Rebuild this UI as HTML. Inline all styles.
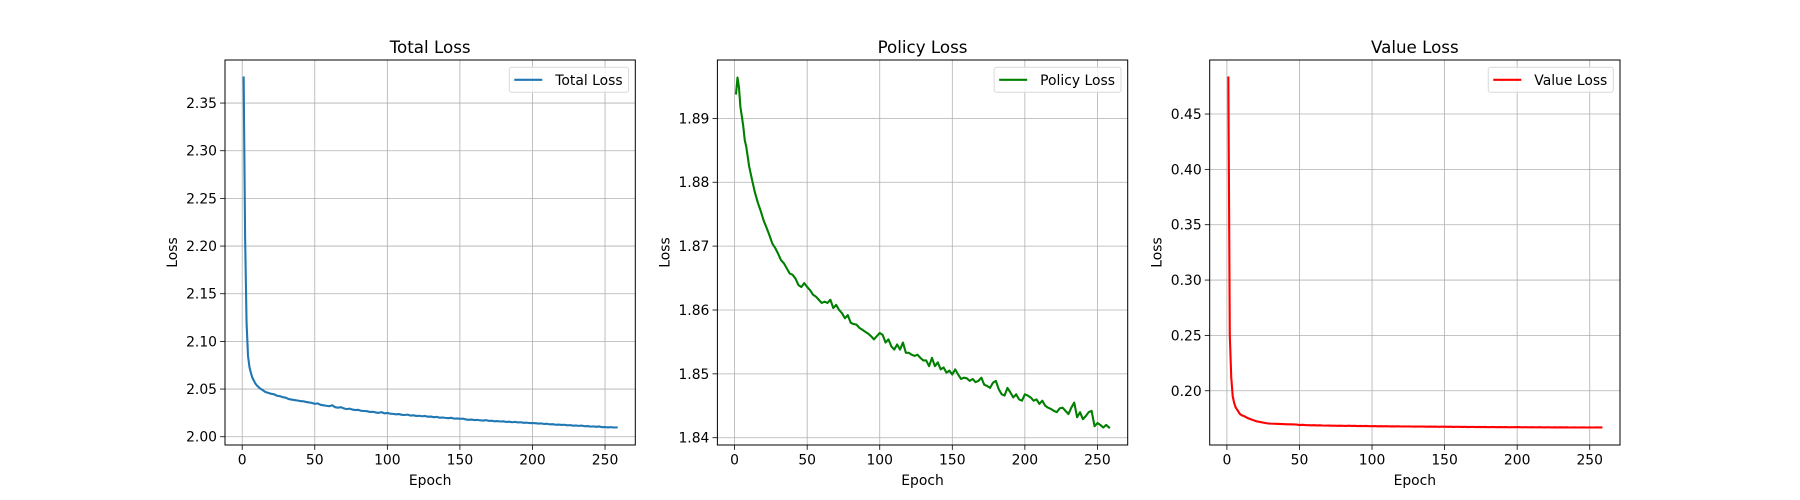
<!DOCTYPE html>
<html><head><meta charset="utf-8"><style>
html,body{margin:0;padding:0;background:#fff;}
svg{display:block;font-family:"DejaVu Sans","Liberation Sans",sans-serif;}
</style></head><body>
<svg id="fig" width="1800" height="500" viewBox="0 0 1800 500" xmlns="http://www.w3.org/2000/svg"></svg>
<script>
const epochs = [1,2,3,4,5,6,7,8,9,10,12,14,16,18,20,22,24,26,28,30,32,34,36,38,40,42,44,46,48,50,52,54,56,58,60,62,64,66,68,70,72,74,76,78,80,82,84,86,88,90,92,94,96,98,100,102,104,106,108,110,112,114,116,118,120,122,124,126,128,130,132,134,136,138,140,142,144,146,148,150,152,154,156,158,160,162,164,166,168,170,172,174,176,178,180,182,184,186,188,190,192,194,196,198,200,202,204,206,208,210,212,214,216,218,220,222,224,226,228,230,232,234,236,238,240,242,244,246,248,250,252,254,256,258];
const totalLoss = [2.3768,2.21,2.12,2.085,2.073,2.067,2.062,2.059,2.056,2.054,2.051,2.049,2.047,2.046,2.045,2.0445,2.043,2.0425,2.0415,2.041,2.0395,2.039,2.0385,2.038,2.0374,2.0372,2.0365,2.036,2.0355,2.0345,2.035,2.0335,2.033,2.0325,2.032,2.033,2.031,2.0305,2.031,2.0298,2.029,2.0295,2.0285,2.028,2.0282,2.0272,2.027,2.0268,2.026,2.0262,2.0255,2.025,2.0258,2.0245,2.025,2.0242,2.024,2.0235,2.0238,2.023,2.0228,2.0232,2.0222,2.0225,2.0218,2.022,2.0215,2.0218,2.021,2.0212,2.0205,2.0208,2.02,2.0202,2.0198,2.0195,2.0199,2.019,2.0192,2.0188,2.019,2.0182,2.0178,2.018,2.0175,2.0177,2.0172,2.017,2.0174,2.0166,2.0168,2.0162,2.0164,2.016,2.0162,2.0155,2.0158,2.0152,2.0156,2.015,2.0152,2.0146,2.0148,2.0143,2.0144,2.0142,2.0138,2.014,2.0134,2.0136,2.013,2.0132,2.0126,2.0128,2.0124,2.0126,2.012,2.0122,2.0116,2.0118,2.0114,2.0117,2.011,2.0112,2.0106,2.0109,2.0104,2.0108,2.01,2.0102,2.0098,2.0101,2.0097,2.0098];
const policyLoss = [1.8939,1.8964,1.8949,1.8918,1.8903,1.8887,1.8866,1.8856,1.8841,1.8825,1.8804,1.8784,1.8768,1.8755,1.874,1.8729,1.8717,1.8704,1.8697,1.8688,1.8678,1.8673,1.8665,1.8657,1.8655,1.8649,1.8639,1.8636,1.8642,1.8636,1.8631,1.8624,1.8621,1.8616,1.8611,1.8613,1.8611,1.8616,1.8603,1.8608,1.86,1.8595,1.8587,1.8592,1.858,1.8578,1.8577,1.8572,1.8569,1.8566,1.8563,1.8559,1.8554,1.8559,1.8564,1.8561,1.8549,1.8554,1.8543,1.8538,1.8546,1.8538,1.8549,1.8533,1.8533,1.853,1.8528,1.853,1.8525,1.8521,1.8521,1.8512,1.8525,1.8512,1.8518,1.8507,1.851,1.8502,1.8505,1.8499,1.8507,1.8499,1.8492,1.8494,1.8493,1.8489,1.8492,1.8487,1.8489,1.8494,1.8483,1.8481,1.8478,1.8486,1.8489,1.8476,1.8468,1.8466,1.8478,1.8471,1.8463,1.8468,1.846,1.8458,1.8468,1.8466,1.8463,1.8458,1.846,1.8453,1.8458,1.845,1.8447,1.8445,1.8442,1.844,1.8446,1.8447,1.8442,1.8437,1.8447,1.8455,1.8432,1.844,1.8429,1.8434,1.844,1.8442,1.8418,1.8423,1.842,1.8416,1.842,1.8416];
const valueLoss = [0.483,0.25,0.212,0.195,0.189,0.185,0.183,0.181,0.179,0.178,0.177,0.1755,0.1745,0.1735,0.1725,0.172,0.1715,0.171,0.1705,0.1703,0.1702,0.1701,0.17,0.1699,0.1698,0.1697,0.1697,0.1696,0.1695,0.169,0.1692,0.169,0.1689,0.1688,0.1689,0.1687,0.1688,0.1686,0.1685,0.1686,0.1684,0.1685,0.1683,0.1684,0.1683,0.1682,0.1684,0.1682,0.1683,0.1681,0.1682,0.1681,0.1682,0.168,0.168,0.1681,0.1679,0.168,0.1679,0.168,0.1678,0.1679,0.1678,0.1679,0.1677,0.1678,0.1677,0.1678,0.1676,0.1677,0.1676,0.1677,0.1676,0.1675,0.1676,0.1675,0.1676,0.1674,0.1675,0.1675,0.1674,0.1675,0.1673,0.1674,0.1674,0.1673,0.1674,0.1672,0.1673,0.1673,0.1672,0.1673,0.1672,0.1673,0.1671,0.1672,0.1672,0.1671,0.1672,0.1671,0.1672,0.167,0.1671,0.1671,0.1672,0.1671,0.167,0.1671,0.167,0.1671,0.167,0.167,0.1671,0.1669,0.167,0.167,0.1669,0.167,0.1669,0.167,0.1669,0.167,0.1668,0.1669,0.1669,0.1668,0.1669,0.1669,0.1668,0.1669,0.1668,0.1669,0.1669,0.1669];
const xTicks = [0,50,100,150,200,250];
const totalTicks = [2.00,2.05,2.10,2.15,2.20,2.25,2.30,2.35];
const policyTicks = [1.84,1.85,1.86,1.87,1.88,1.89];
const valueTicks = [0.20,0.25,0.30,0.35,0.40,0.45];

const NS = "http://www.w3.org/2000/svg";
const svg = document.getElementById('fig');
function mk(tag, attrs, parent){
  const e = document.createElementNS(NS, tag);
  for (const k in attrs) e.setAttribute(k, attrs[k]);
  (parent||svg).appendChild(e);
  return e;
}
const panels = [
  {key:'total', title:'Total Loss', color:'#1f77b4', data:totalLoss, ticks:totalTicks, dec:2, left:225},
  {key:'policy', title:'Policy Loss', color:'#008000', data:policyLoss, ticks:policyTicks, dec:2, left:717.4},
  {key:'value', title:'Value Loss', color:'#ff0000', data:valueLoss, ticks:valueTicks, dec:2, left:1209.7}
];
const W = 410.3, TOP = 60, BOT = 445;
panels.forEach(p => {
  const g = mk('g', {});
  
  
  const xmin = Math.min(...epochs), xmax = Math.max(...epochs);
  const xr = xmax - xmin, x0 = xmin - 0.05*xr, x1 = xmax + 0.05*xr;
  const ymin = Math.min(...p.data), ymax = Math.max(...p.data);
  const yr = ymax - ymin, y0 = ymin - 0.05*yr, y1 = ymax + 0.05*yr;
  const L = p.left, R = p.left + W;
  const X = v => L + (v - x0)/(x1 - x0)*W;
  const Y = v => BOT - (v - y0)/(y1 - y0)*(BOT - TOP);
  // grid
  xTicks.forEach(t => {
    if (t < x0 || t > x1) return;
    const gl = mk('line', {x1:X(t), x2:X(t), y1:TOP, y2:BOT, stroke:'#b0b0b0', 'stroke-width':0.8}, g);
    
    
    mk('line', {x1:X(t), x2:X(t), y1:BOT, y2:BOT+4.9, stroke:'#000', 'stroke-width':0.8}, g);
    const tl = mk('text', {x:X(t), y:BOT+19.5, 'font-size':13.9, 'text-anchor':'middle', fill:'#000'}, g);
    tl.textContent = t;
    
    
  });
  p.ticks.forEach(t => {
    if (t < y0 || t > y1) return;
    const gl = mk('line', {x1:L, x2:R, y1:Y(t), y2:Y(t), stroke:'#b0b0b0', 'stroke-width':0.8}, g);
    
    
    mk('line', {x1:L-4.9, x2:L, y1:Y(t), y2:Y(t), stroke:'#000', 'stroke-width':0.8}, g);
    const tl = mk('text', {x:L-8, y:Y(t)+5, 'font-size':13.9, 'text-anchor':'end', fill:'#000'}, g);
    tl.textContent = t.toFixed(p.dec);
    
    
  });
  // line
  const d = epochs.map((e,i) => (i?'L':'M') + X(e).toFixed(2) + ' ' + Y(p.data[i]).toFixed(2)).join(' ');
  const ln = mk('path', {d:d, fill:'none', stroke:p.color, 'stroke-width':2.1, 'stroke-linejoin':'round', 'stroke-linecap':'square'}, g);
  
  
  // frame
  const fr = mk('rect', {x:L, y:TOP, width:W, height:BOT-TOP, fill:'none', stroke:'#000', 'stroke-width':1}, g);
  
  
  // title
  const ti = mk('text', {x:L+W/2, y:TOP-7, 'font-size':16.7, 'text-anchor':'middle', fill:'#000'}, g);
  ti.textContent = p.title;
  
  
  const xl = mk('text', {x:L+W/2, y:485, 'font-size':13.9, 'text-anchor':'middle', fill:'#000'}, g);
  xl.textContent = 'Epoch';
  
  
  const yx = L - 48, yy = (TOP+BOT)/2;
  const yl = mk('text', {x:yx, y:yy, 'font-size':13.9, 'text-anchor':'middle', fill:'#000', transform:'rotate(-90 '+yx+' '+yy+')'}, g);
  yl.textContent = 'Loss';
  
  
  // legend
  const lg = mk('g', {}, g);
  
  
  const box = mk('rect', {x:0, y:67.3, width:10, height:25, rx:2.5, fill:'#fff', 'fill-opacity':0.8, stroke:'#d9d9d9', 'stroke-width':1}, lg);
  const lt = mk('text', {x:0, y:84.8, 'font-size':13.9, fill:'#000'}, lg);
  lt.textContent = p.title;
  
  
  const tw = lt.getComputedTextLength() || 75;
  const bw = 10 + 28 + 8 + tw + 6;
  const bx = R - 6.7 - bw;
  box.setAttribute('x', bx);
  box.setAttribute('width', bw);
  lt.setAttribute('x', bx + 46);
  const lh = mk('line', {x1:bx+5, x2:bx+33, y1:79.8, y2:79.8, stroke:p.color, 'stroke-width':2.1}, lg);
  
  
});
</script>
</body></html>
